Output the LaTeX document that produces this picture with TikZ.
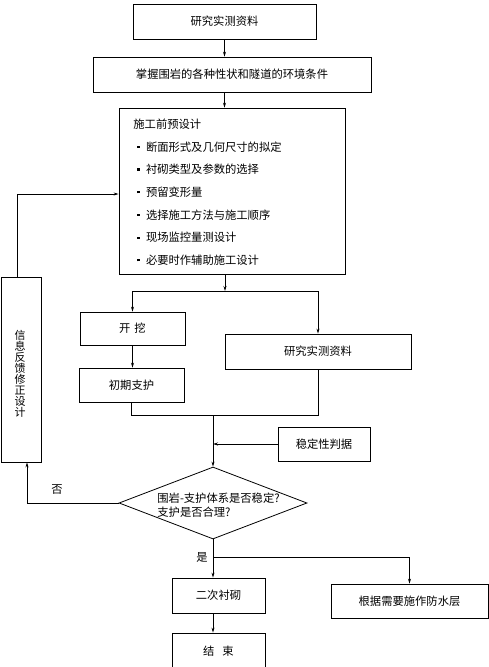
\documentclass[tikz,border=0pt]{standalone}
\usepackage{fontspec}
\setmainfont{Noto Sans CJK SC}
\usetikzlibrary{arrows.meta,shapes.geometric}
\newcommand{\bull}{\rule[0.28em]{2.1pt}{2.1pt}\hspace{6.5pt}}

\begin{document}
\begin{tikzpicture}[x=1pt, y=-1pt, >={Stealth[length=5pt,width=3pt]}, line width=0.8pt,
    box/.style={draw, inner sep=0pt, font=\fontsize{11.3}{13}\selectfont},
    txt/.style={inner sep=0pt, font=\fontsize{11.3}{13}\selectfont}]
    \def\pitch{22.7}

    % Frame
    \useasboundingbox (0,0) rectangle (489,667);
    \clip (0,0) rectangle (489,667);

    % Boxes
    \node[box, minimum width=183pt, minimum height=35pt] (data1) at (224.5,21.5) {研究实测资料};
    \node[box, minimum width=278pt, minimum height=35pt] (cond) at (232,74.5) {掌握围岩的各种性状和隧道的环境条件};
    \node[box, minimum width=226pt, minimum height=166pt] (pre) at (232,191) {};
    \node[txt, anchor=west] (pre0) at (133,124) {施工前预设计};
    \foreach \t [count=\i] in {断面形式及几何尺寸的拟定, 衬砌类型及参数的选择, 预留变形量,
        选择施工方法与施工顺序, 现场监控量测设计, 必要时作辅助施工设计}
        \node[txt, anchor=west] (pre\i) at (137,{124+\pitch*\i}) {\bull\t};

    \node[box, minimum width=105pt, minimum height=33pt] (dig) at (132.5,328.5) {开\hspace{4pt}挖};
    \node[box, minimum width=105pt, minimum height=34pt] (sup) at (131.5,385) {初期支护};
    \node[box, minimum width=186pt, minimum height=35pt] (data2) at (318,351.5) {研究实测资料};
    \node[box, minimum width=92pt, minimum height=34pt] (crit) at (324,444) {稳定性判据};
    \node[box, minimum width=40pt, minimum height=185pt] (fb) at (21,369.5) {};
    \node[txt, align=center, font=\fontsize{11}{11}\selectfont] (fbtxt) at (20,373.5)
        {信\\息\\反\\馈\\修\\正\\设\\计};

    % Decision
    \node[draw, diamond, minimum width=188pt, minimum height=72pt, inner sep=0pt] (chk) at (213,503) {};
    \node[txt, anchor=west, align=left, font=\fontsize{11.3}{14}\selectfont] (chktxt) at (157,505)
        {围岩-支护体系是否稳定?\\支护是否合理?};

    \node[box, minimum width=93pt, minimum height=35pt] (lin2) at (218.5,595.5) {二次衬砌};
    \node[box, minimum width=93pt, minimum height=36pt] (fin) at (218.5,651) {结\hspace{8pt}束};
    \node[box, minimum width=157pt, minimum height=34pt] (wp) at (409.5,601) {根据需要施作防水层};

    % Labels
    \node[txt] (no) at (57,490) {否};
    \node[txt, anchor=east] (yeslbl) at (208,557) {是};

    % Connectors
    \coordinate (fork) at (225,291);
    \coordinate (join) at (213,415);
    \coordinate (yes) at (213,557);
    \draw[->] (data1.south) -- (data1.south |- cond.north);
    \draw[->] (data1.south |- cond.south) -- (data1.south |- pre.north);
    \draw[->] (fork |- pre.south) -- (fork);
    \draw (dig.north |- fork) -- (data2.north |- fork);
    \draw[->] (dig.north |- fork) -- (dig.north);
    \draw[->] (data2.north |- fork) -- (data2.north);
    \draw[->] (dig.south) -- (dig.south |- sup.north);
    \draw (sup.south) |- (data2.south |- join) -- (data2.south);
    \draw[->] (join) -- (chk.north);
    \draw[->] (crit.west) -- (join |- crit.west);
    \draw[->] (chk.west) -| ([xshift=6pt]fb.south);
    \draw[->] ([xshift=-4pt]fb.north) |- ([yshift=-3pt]pre.west);
    \draw (chk.south) -- (yes) -- (yes -| wp.north);
    \draw[->] (yes -| wp.north) -- (wp.north);
    \draw[->] (yes) -- (yes |- lin2.north);
    \draw[->] (yes |- lin2.south) -- (yes |- fin.north);
\end{tikzpicture}
\end{document}
